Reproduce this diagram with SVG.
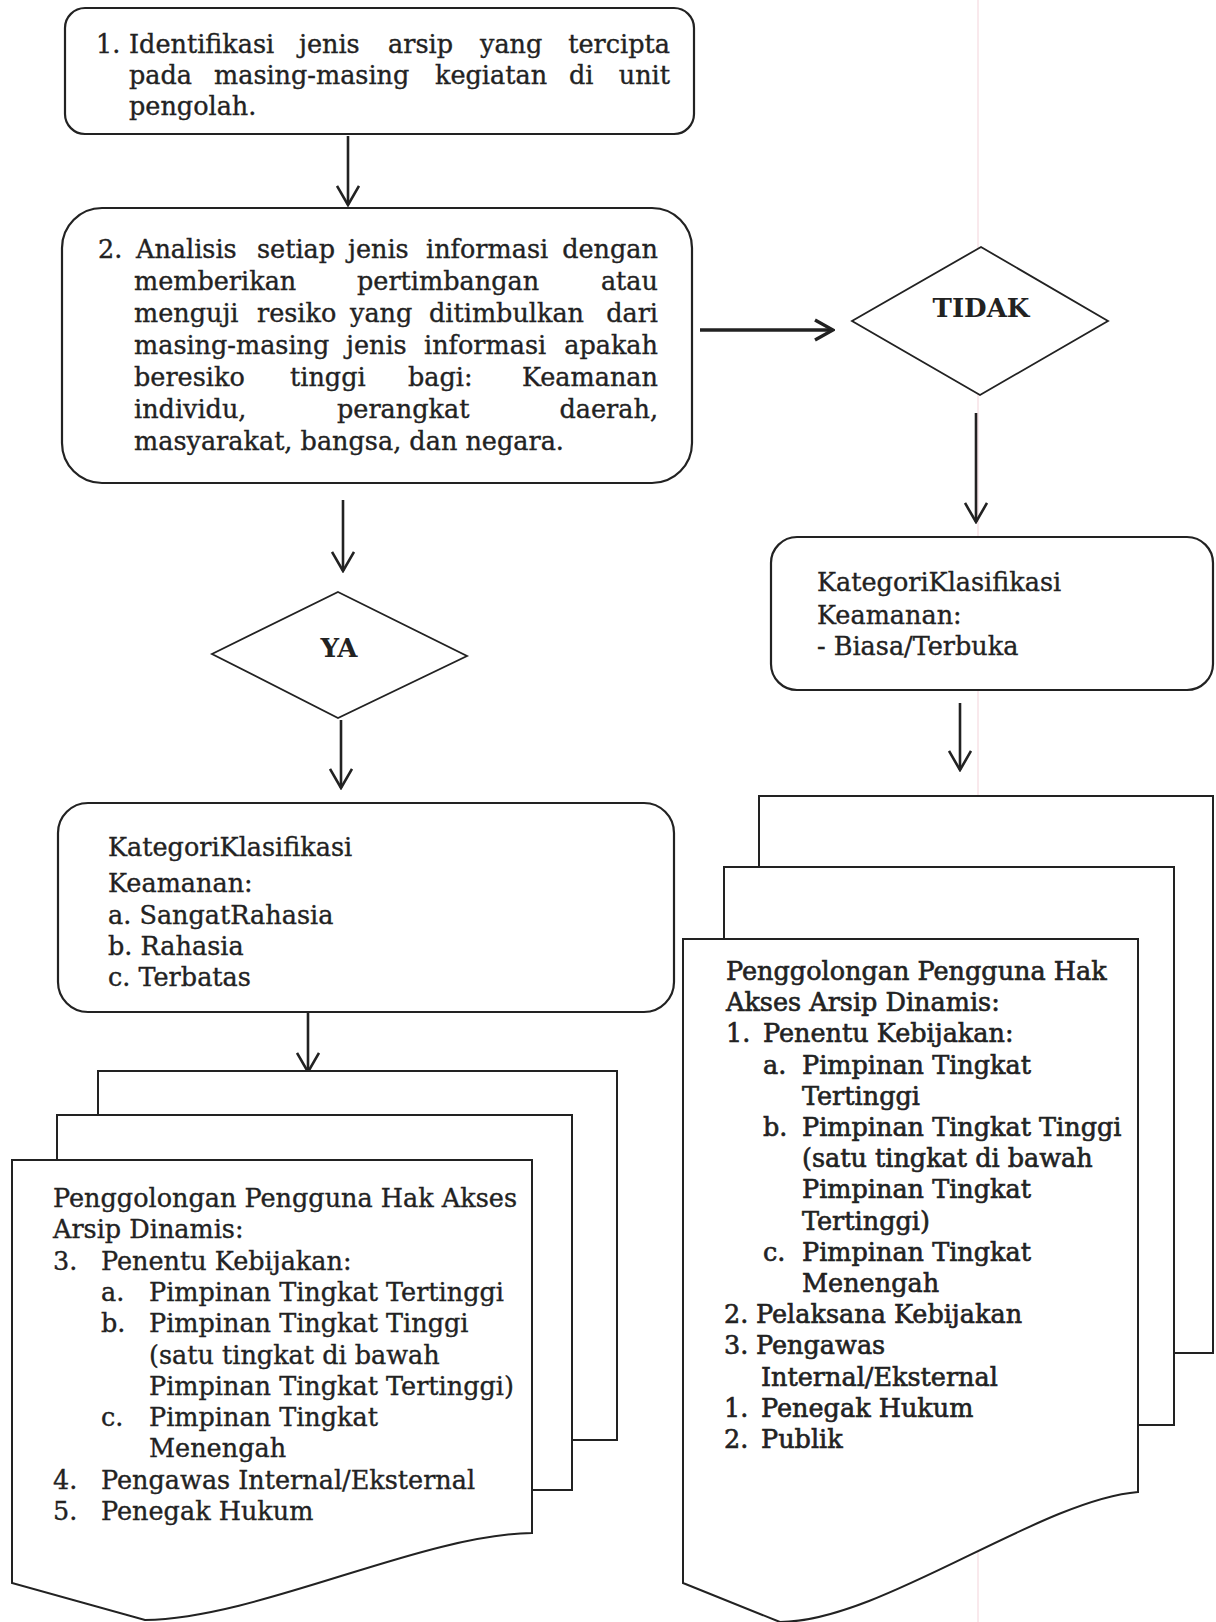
<svg xmlns="http://www.w3.org/2000/svg" width="1216" height="1622" viewBox="0 0 1216 1622">
<style>
  .t { font-family: "DejaVu Serif", "Liberation Serif", serif; font-size: 25.5px; fill: #222; stroke: #222; stroke-width: 0.35; }
  .r { stroke-width: 0.6; }
  .tb { font-family: "DejaVu Serif", "Liberation Serif", serif; font-size: 26px; font-weight: bold; fill: #222; }
  .box { fill: #fff; stroke: #222; stroke-width: 2.2; }
  .dia { fill: #fff; stroke: #222; stroke-width: 1.8; }
  .page { fill: #fff; stroke: #222; stroke-width: 2; }
  .conn { stroke: #222; stroke-width: 2.6; fill: none; marker-end: url(#ah); }
  .connb { stroke: #222; stroke-width: 3.6; fill: none; marker-end: url(#ah2); }
</style>
<defs>
  <marker id="ah" markerUnits="userSpaceOnUse" viewBox="0 0 22 24" refX="20" refY="12" markerWidth="22" markerHeight="24" orient="auto">
    <path d="M1,1 L20,12 L1,23" fill="none" stroke="#222" stroke-width="2.6"/>
  </marker>
  <marker id="ah2" markerUnits="userSpaceOnUse" viewBox="0 0 22 24" refX="20" refY="12" markerWidth="22" markerHeight="24" orient="auto">
    <path d="M2,2 L20,12 L2,22" fill="none" stroke="#222" stroke-width="3.4"/>
  </marker>
</defs>
<rect x="0" y="0" width="1216" height="1622" fill="#fff"/>
<line x1="978" y1="0" x2="978" y2="1622" stroke="#f3d3da" stroke-width="1"/>

<g id="connectors">
  <line class="conn" x1="348" y1="136" x2="348" y2="205"/>
  <line class="connb" x1="700" y1="330" x2="833" y2="330"/>
  <line class="conn" x1="343" y1="500" x2="343" y2="571"/>
  <line class="conn" x1="976" y1="413" x2="976" y2="522"/>
  <line class="conn" x1="341" y1="720" x2="341" y2="788"/>
  <line class="conn" x1="960" y1="703" x2="960" y2="770"/>
  <line class="conn" x1="308" y1="1012" x2="308" y2="1072"/>
</g>

<g id="node1">
  <rect class="box" x="65" y="8" width="629" height="126" rx="20"/>
  <text class="t" y="53"><tspan x="96">1.</tspan><tspan x="129">Identifikasi</tspan><tspan x="299">jenis</tspan><tspan x="388">arsip</tspan><tspan x="480">yang</tspan><tspan x="670" text-anchor="end">tercipta</tspan></text>
  <text class="t" y="84"><tspan x="129">pada</tspan><tspan x="214">masing-masing</tspan><tspan x="435">kegiatan</tspan><tspan x="569">di</tspan><tspan x="670" text-anchor="end">unit</tspan></text>
  <text class="t" x="129" y="115">pengolah.</text>
</g>

<g id="node2">
  <rect class="box" x="62" y="208" width="630" height="275" rx="40"/>
  <text class="t" y="258"><tspan x="98">2.</tspan><tspan x="136">Analisis</tspan><tspan x="257">setiap</tspan><tspan x="348">jenis</tspan><tspan x="426">informasi</tspan><tspan x="658" text-anchor="end">dengan</tspan></text>
  <text class="t" y="290"><tspan x="134">memberikan</tspan><tspan x="357">pertimbangan</tspan><tspan x="658" text-anchor="end">atau</tspan></text>
  <text class="t" y="322"><tspan x="134">menguji</tspan><tspan x="257">resiko</tspan><tspan x="350">yang</tspan><tspan x="429">ditimbulkan</tspan><tspan x="658" text-anchor="end">dari</tspan></text>
  <text class="t" y="354"><tspan x="134">masing-masing</tspan><tspan x="346">jenis</tspan><tspan x="424">informasi</tspan><tspan x="658" text-anchor="end">apakah</tspan></text>
  <text class="t" y="386"><tspan x="134">beresiko</tspan><tspan x="290">tinggi</tspan><tspan x="408">bagi:</tspan><tspan x="658" text-anchor="end">Keamanan</tspan></text>
  <text class="t" y="418"><tspan x="134">individu,</tspan><tspan x="337">perangkat</tspan><tspan x="658" text-anchor="end">daerah,</tspan></text>
  <text class="t" x="134" y="450">masyarakat, bangsa, dan negara.</text>
</g>

<g id="tidak">
  <polygon class="dia" points="981,247 1108,321 980,395 852,321"/>
  <text class="tb" x="981" y="317" text-anchor="middle">TIDAK</text>
</g>

<g id="ya">
  <polygon class="dia" points="338,592 467,656 338,718 212,654"/>
  <text class="tb" x="339" y="657" text-anchor="middle">YA</text>
</g>

<g id="kategori-kanan">
  <rect class="box" x="771" y="537" width="442" height="153" rx="26"/>
  <text class="t" x="817" y="591">KategoriKlasifikasi</text>
  <text class="t" x="817" y="624">Keamanan:</text>
  <text class="t" x="817" y="655">- Biasa/Terbuka</text>
</g>

<g id="kategori-kiri">
  <rect class="box" x="58" y="803" width="616" height="209" rx="30"/>
  <text class="t" x="108" y="856">KategoriKlasifikasi</text>
  <text class="t" x="108" y="892">Keamanan:</text>
  <text class="t" x="108" y="924">a. SangatRahasia</text>
  <text class="t" x="108" y="955">b. Rahasia</text>
  <text class="t" x="108" y="986">c. Terbatas</text>
</g>

<g id="dokumen-kiri">
  <rect class="page" x="98" y="1071" width="519" height="369"/>
  <rect class="page" x="57" y="1115" width="515" height="375"/>
  <path class="page" d="M12,1160 H532 V1533 C420,1535 260,1618 145,1620 L12,1583 Z"/>
  <text class="t" x="53" y="1207">Penggolongan Pengguna Hak Akses</text>
  <text class="t" x="53" y="1238">Arsip Dinamis:</text>
  <text class="t" y="1270"><tspan x="53">3.</tspan><tspan x="101">Penentu Kebijakan:</tspan></text>
  <text class="t" y="1301"><tspan x="101">a.</tspan><tspan x="149">Pimpinan Tingkat Tertinggi</tspan></text>
  <text class="t" y="1332"><tspan x="101">b.</tspan><tspan x="149">Pimpinan Tingkat Tinggi</tspan></text>
  <text class="t" x="149" y="1364">(satu tingkat di bawah</text>
  <text class="t" x="149" y="1395">Pimpinan Tingkat Tertinggi)</text>
  <text class="t" y="1426"><tspan x="101">c.</tspan><tspan x="149">Pimpinan Tingkat</tspan></text>
  <text class="t" x="149" y="1457">Menengah</text>
  <text class="t" y="1489"><tspan x="53">4.</tspan><tspan x="101">Pengawas Internal/Eksternal</tspan></text>
  <text class="t" y="1520"><tspan x="53">5.</tspan><tspan x="101">Penegak Hukum</tspan></text>
</g>

<g id="dokumen-kanan">
  <rect class="page" x="759" y="796" width="454" height="557"/>
  <rect class="page" x="724" y="867" width="450" height="558"/>
  <path class="page" d="M683,939 H1138 V1492 C1040,1500 880,1622 780,1622 L683,1583 Z"/>
  <text class="t r" x="726" y="980">Penggolongan Pengguna Hak</text>
  <text class="t r" x="726" y="1011">Akses Arsip Dinamis:</text>
  <text class="t r" y="1042"><tspan x="726">1.</tspan><tspan x="763">Penentu Kebijakan:</tspan></text>
  <text class="t r" y="1074"><tspan x="763">a.</tspan><tspan x="802">Pimpinan Tingkat</tspan></text>
  <text class="t r" x="802" y="1105">Tertinggi</text>
  <text class="t r" y="1136"><tspan x="763">b.</tspan><tspan x="802">Pimpinan Tingkat Tinggi</tspan></text>
  <text class="t r" x="802" y="1167">(satu tingkat di bawah</text>
  <text class="t r" x="802" y="1198">Pimpinan Tingkat</text>
  <text class="t r" x="802" y="1230">Tertinggi)</text>
  <text class="t r" y="1261"><tspan x="763">c.</tspan><tspan x="802">Pimpinan Tingkat</tspan></text>
  <text class="t r" x="802" y="1292">Menengah</text>
  <text class="t r" y="1323"><tspan x="724">2.</tspan><tspan x="756">Pelaksana Kebijakan</tspan></text>
  <text class="t r" y="1354"><tspan x="724">3.</tspan><tspan x="756">Pengawas</tspan></text>
  <text class="t r" x="761" y="1386">Internal/Eksternal</text>
  <text class="t r" y="1417"><tspan x="724">1.</tspan><tspan x="761">Penegak Hukum</tspan></text>
  <text class="t r" y="1448"><tspan x="724">2.</tspan><tspan x="761">Publik</tspan></text>
</g>
</svg>
